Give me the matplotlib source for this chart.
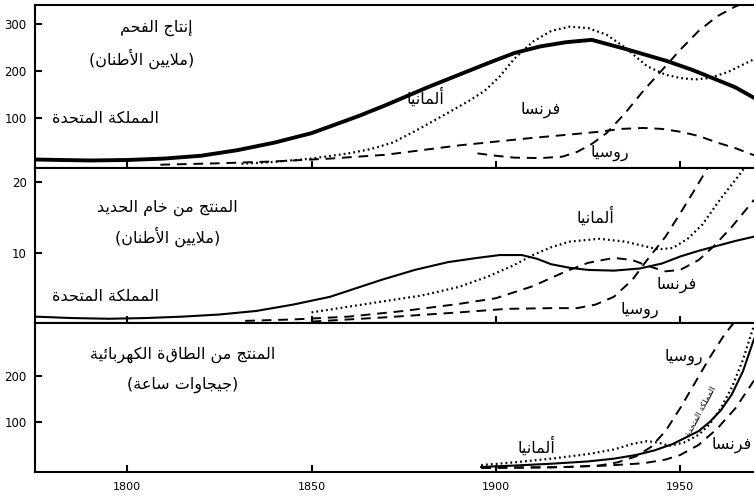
import matplotlib
matplotlib.use("Agg")
import matplotlib.pyplot as plt

# ---- panel 1: coal production (million tons)
coal_uk_years = [1775, 1782, 1790, 1800, 1810, 1820, 1830, 1840, 1850, 1856, 1863, 1870, 1876, 1882, 1890, 1898, 1905, 1912, 1919, 1926, 1935, 1946, 1953, 1960, 1965, 1970]
coal_uk = [12, 11, 10, 11, 14, 20, 32, 48, 68, 85, 105, 127, 147, 167, 192, 217, 238, 252, 261, 266, 247, 222, 203, 181, 165, 143]
coal_de_years = [1831, 1840, 1850, 1860, 1866, 1872, 1878, 1884, 1889, 1893, 1897, 1901, 1905, 1910, 1915, 1920, 1925, 1930, 1935, 1941, 1946, 1950, 1954, 1958, 1963, 1970]
coal_de = [3, 7, 14, 25, 34, 48, 72, 98, 120, 138, 158, 188, 226, 262, 285, 294, 291, 277, 250, 210, 192, 185, 182, 185, 198, 225]
coal_fr_years = [1809, 1825, 1840, 1855, 1870, 1880, 1890, 1900, 1910, 1920, 1928, 1934, 1940, 1945, 1950, 1955, 1960, 1965, 1970]
coal_fr = [1, 4, 8, 14, 22, 32, 42, 50, 58, 65, 71, 77, 79, 77, 71, 62, 48, 36, 21]
coal_ru_years = [1895, 1900, 1905, 1912, 1918, 1922, 1926, 1930, 1935, 1940, 1946, 1950, 1955, 1960, 1965, 1968]
coal_ru = [25, 20, 16, 15, 18, 28, 45, 68, 110, 158, 210, 245, 285, 316, 337, 346]

# ---- panel 2: iron ore (million tons)
iron_uk_years = [1775, 1785, 1795, 1805, 1815, 1825, 1835, 1845, 1855, 1862, 1869, 1878, 1887, 1895, 1901, 1907, 1911, 1915, 1920, 1925, 1932, 1939, 1945, 1950, 1955, 1960, 1965, 1970]
iron_uk = [1.0, 0.8, 0.7, 0.8, 1.0, 1.3, 1.8, 2.7, 3.8, 5.0, 6.2, 7.6, 8.7, 9.3, 9.7, 9.7, 9.2, 8.4, 7.9, 7.6, 7.5, 7.8, 8.5, 9.5, 10.3, 11.0, 11.7, 12.3]
iron_de_years = [1850, 1860, 1870, 1880, 1890, 1898, 1905, 1910, 1915, 1920, 1928, 1935, 1940, 1944, 1948, 1952, 1956, 1961, 1966, 1970]
iron_de = [1.6, 2.4, 3.2, 4.0, 5.2, 6.7, 8.3, 9.7, 10.8, 11.6, 12.0, 11.6, 11.0, 10.5, 10.7, 12.0, 14.0, 17.7, 21.0, 24.0]
iron_fr_years = [1832, 1845, 1860, 1875, 1890, 1900, 1910, 1919, 1925, 1932, 1937, 1941, 1946, 1950, 1955, 1959, 1964, 1970]
iron_fr = [0.4, 0.6, 1.0, 1.8, 2.8, 3.6, 5.3, 7.4, 8.6, 9.3, 9.0, 8.2, 7.4, 7.6, 9.0, 10.9, 13.7, 17.5]
iron_ru_years = [1850, 1870, 1890, 1903, 1915, 1922, 1927, 1932, 1937, 1941, 1946, 1950, 1954, 1958]
iron_ru = [0.3, 0.9, 1.6, 2.1, 2.2, 2.2, 2.7, 3.8, 6.2, 9.0, 12.3, 15.6, 19.0, 22.5]

# ---- panel 3: electricity (GWh)
elec_uk_years = [1896, 1905, 1915, 1925, 1932, 1938, 1943, 1948, 1952, 1955, 1958, 1961, 1964, 1967, 1970]
elec_uk = [2, 5, 9, 14, 20, 28, 38, 52, 68, 80, 100, 125, 160, 210, 280]
elec_de_years = [1896, 1905, 1915, 1925, 1932, 1937, 1941, 1944, 1947, 1951, 1955, 1958, 1961, 1964, 1967, 1970]
elec_de = [6, 12, 20, 30, 40, 52, 58, 55, 48, 55, 72, 95, 130, 175, 235, 310]
elec_ru_years = [1896, 1910, 1920, 1928, 1933, 1938, 1942, 1946, 1950, 1954, 1958, 1962, 1965]
elec_ru = [0, 1, 2, 5, 12, 25, 45, 80, 130, 185, 240, 290, 320]
elec_fr_years = [1896, 1915, 1930, 1940, 1946, 1950, 1955, 1960, 1965, 1970]
elec_fr = [0, 1, 5, 10, 18, 28, 50, 85, 130, 190]

x_ticks = [1800, 1850, 1900, 1950]

# minimal arabic shaping (presentation forms + right-to-left order)
AR_FORMS = {
    'ا': (0xFE8D, 0xFE8E), 'أ': (0xFE83, 0xFE84), 'إ': (0xFE87, 0xFE88),
    'ب': (0xFE8F, 0xFE90, 0xFE91, 0xFE92), 'ة': (0xFE93, 0xFE94),
    'ت': (0xFE95, 0xFE96, 0xFE97, 0xFE98), 'ج': (0xFE9D, 0xFE9E, 0xFE9F, 0xFEA0),
    'ح': (0xFEA1, 0xFEA2, 0xFEA3, 0xFEA4), 'خ': (0xFEA5, 0xFEA6, 0xFEA7, 0xFEA8),
    'د': (0xFEA9, 0xFEAA), 'ر': (0xFEAD, 0xFEAE),
    'س': (0xFEB1, 0xFEB2, 0xFEB3, 0xFEB4), 'ط': (0xFEC1, 0xFEC2, 0xFEC3, 0xFEC4),
    'ع': (0xFEC9, 0xFECA, 0xFECB, 0xFECC), 'ف': (0xFED1, 0xFED2, 0xFED3, 0xFED4),
    'ك': (0xFED9, 0xFEDA, 0xFEDB, 0xFEDC), 'ل': (0xFEDD, 0xFEDE, 0xFEDF, 0xFEE0),
    'م': (0xFEE1, 0xFEE2, 0xFEE3, 0xFEE4), 'ن': (0xFEE5, 0xFEE6, 0xFEE7, 0xFEE8),
    'ه': (0xFEE9, 0xFEEA, 0xFEEB, 0xFEEC), 'و': (0xFEED, 0xFEEE),
    'ي': (0xFEF1, 0xFEF2, 0xFEF3, 0xFEF4), 'ئ': (0xFE89, 0xFE8A, 0xFE8B, 0xFE8C),
}
LAM_ALEF = {'ا': (0xFEFB, 0xFEFC), 'أ': (0xFEF7, 0xFEF8), 'إ': (0xFEF9, 0xFEFA)}


def ar(text):
    out = []
    i = 0
    while i < len(text):
        c = text[i]
        if c not in AR_FORMS:
            out.append(c)
            i += 1
            continue
        prev = text[i - 1] if i > 0 else ''
        joins_prev = prev in AR_FORMS and len(AR_FORMS[prev]) == 4
        if c == 'ل' and i + 1 < len(text) and text[i + 1] in LAM_ALEF:
            iso, fin = LAM_ALEF[text[i + 1]]
            out.append(chr(fin if joins_prev else iso))
            i += 2
            continue
        nxt = text[i + 1] if i + 1 < len(text) else ''
        forms = AR_FORMS[c]
        joins_next = len(forms) == 4 and nxt in AR_FORMS
        if joins_prev and joins_next:
            f = forms[3]
        elif joins_prev:
            f = forms[1]
        elif joins_next:
            f = forms[2]
        else:
            f = forms[0]
        out.append(chr(f))
        i += 1
    return ''.join(reversed(out)).translate(str.maketrans('()', ')('))


plt.rcParams['font.family'] = ['DejaVu Sans']

fig = plt.figure(figsize=(7.54, 4.99), dpi=100)
left, width = 35 / 754, 1 - 35 / 754
ax1 = fig.add_axes([left, 1 - 168 / 499, width, 163 / 499])
ax2 = fig.add_axes([left, 1 - 323 / 499, width, 155 / 499])
ax3 = fig.add_axes([left, 1 - 472 / 499, width, 149 / 499])

solid = dict(color='black', linestyle='-')
dashed = dict(color='black', linestyle=(0, (5, 3.5)), lw=1.4)
dotted = dict(color='black', linestyle=(0, (0.8, 1.4)), lw=1.6)

ax1.plot(coal_uk_years, coal_uk, lw=2.8, **solid)
ax1.plot(coal_de_years, coal_de, **dotted)
ax1.plot(coal_fr_years, coal_fr, **dashed)
ax1.plot(coal_ru_years, coal_ru, **dashed)

ax2.plot(iron_uk_years, iron_uk, lw=1.5, **solid)
ax2.plot(iron_de_years, iron_de, **dotted)
ax2.plot(iron_fr_years, iron_fr, **dashed)
ax2.plot(iron_ru_years, iron_ru, **dashed)

ax3.plot(elec_uk_years, elec_uk, lw=1.5, **solid)
ax3.plot(elec_de_years, elec_de, **dotted)
ax3.plot(elec_ru_years, elec_ru, **dashed)
ax3.plot(elec_fr_years, elec_fr, **dashed)

ax1.set_ylim(-6, 340)
ax1.set_yticks([100, 200, 300])
ax2.set_ylim(0.1, 22)
ax2.set_yticks([10, 20])
ax3.set_ylim(-9, 315)
ax3.set_yticks([100, 200])

for ax in (ax1, ax2, ax3):
    ax.set_xlim(1775, 1970)
    ax.spines['right'].set_visible(False)
    for s in ('left', 'top', 'bottom'):
        ax.spines[s].set_linewidth(1.5)
    ax.tick_params(direction='in', length=5, width=1.5, labelsize=8.5, pad=6)
    ax.set_xticks(x_ticks)
ax1.tick_params(axis='x', labelbottom=False)
ax2.tick_params(axis='x', labelbottom=False)
ax3.tick_params(axis='x', pad=7, labelsize=8)

fs = 11.5
# coal labels
ax1.text(1808, 292, ar('إنتاج الفحم'), fontsize=fs, ha='center', va='center')
ax1.text(1804, 226, ar('(ملايين الأطنان)'), fontsize=fs, ha='center', va='center')
ax1.text(1794, 100, ar('المملكة المتحدة'), fontsize=fs, ha='center', va='center')
ax1.text(1881, 145, ar('ألمانيا'), fontsize=fs, ha='center', va='center')
ax1.text(1912, 118, ar('فرنسا'), fontsize=fs, ha='center', va='center')
ax1.text(1931, 26, ar('روسيا'), fontsize=fs, ha='center', va='center')

# iron labels
ax2.text(1811, 16.3, ar('المنتج من خام الحديد'), fontsize=fs, ha='center', va='center')
ax2.text(1811, 12.3, ar('(ملايين الأطنان)'), fontsize=fs, ha='center', va='center')
ax2.text(1794, 3.8, ar('المملكة المتحدة'), fontsize=fs, ha='center', va='center')
ax2.text(1927, 15.2, ar('ألمانيا'), fontsize=fs, ha='center', va='center')
ax2.text(1949, 5.5, ar('فرنسا'), fontsize=fs, ha='center', va='center')
ax2.text(1939, 1.9, ar('روسيا'), fontsize=fs, ha='center', va='center')

# electricity labels
ax3.text(1815, 245, ar('المنتج من الطاقة الكهربائية'), fontsize=fs, ha='center', va='center')
ax3.text(1815, 180, ar('(جيجاوات ساعة)'), fontsize=fs, ha='center', va='center')
ax3.text(1951, 242, ar('روسيا'), fontsize=fs, ha='center', va='center')
ax3.text(1911, 48, ar('ألمانيا'), fontsize=fs, ha='center', va='center')
ax3.text(1964, 50, ar('فرنسا'), fontsize=fs, ha='center', va='center')
ax3.text(1955.5, 122, ar('المملكة المتحدة'), fontsize=6, ha='center', va='center', rotation=62)

fig.savefig('out.png', dpi=100)
